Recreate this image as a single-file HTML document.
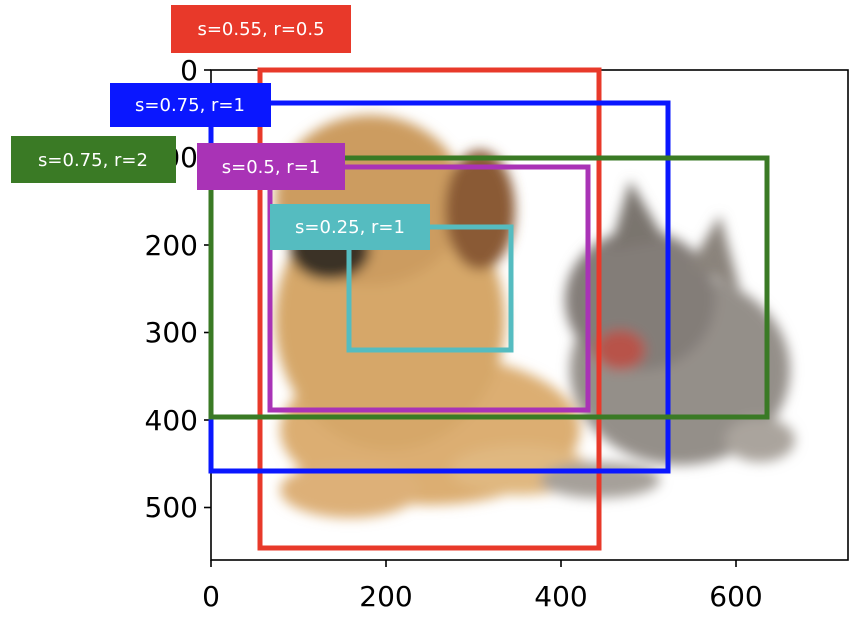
<!DOCTYPE html>
<html><head><meta charset="utf-8"><style>
html,body{margin:0;padding:0;background:#fff;}
svg{display:block;font-family:"DejaVu Sans","Liberation Sans",sans-serif;}
</style></head><body>
<svg width="862" height="630" viewBox="0 0 862 630" xmlns="http://www.w3.org/2000/svg">
<defs><filter id="b" x="-20%" y="-20%" width="140%" height="140%"><feGaussianBlur stdDeviation="6"/></filter></defs>
<g filter="url(#b)">
  <ellipse cx="430" cy="430" rx="150" ry="75" fill="#dcae72"/>
  <ellipse cx="390" cy="320" rx="115" ry="130" fill="#d6a769"/>
  <ellipse cx="370" cy="200" rx="95" ry="85" fill="#cc9c60"/>
  <ellipse cx="330" cy="250" rx="40" ry="30" fill="#3a3028"/>
  <ellipse cx="480" cy="210" rx="35" ry="60" fill="#8a5a34"/>
  <ellipse cx="350" cy="490" rx="70" ry="28" fill="#ddb078"/>
  <ellipse cx="520" cy="470" rx="70" ry="25" fill="#e0b880"/>
  <ellipse cx="680" cy="370" rx="110" ry="95" fill="#948f89"/>
  <ellipse cx="640" cy="300" rx="75" ry="70" fill="#837d78"/>
  <polygon points="630,180 665,240 610,250" fill="#7a746e"/>
  <polygon points="720,215 740,290 690,265" fill="#8a837c"/>
  <ellipse cx="620" cy="350" rx="25" ry="20" fill="#b8534a"/>
  <ellipse cx="760" cy="440" rx="35" ry="22" fill="#aaa49d"/>
  <ellipse cx="600" cy="480" rx="60" ry="18" fill="#a6a09a"/>
</g>
<rect x="211" y="70" width="637" height="490" fill="none" stroke="#000" stroke-width="1.6"/>
<g stroke="#000" stroke-width="1.6">
  <line x1="211" y1="560" x2="211" y2="567"/><line x1="386" y1="560" x2="386" y2="567"/>
  <line x1="561" y1="560" x2="561" y2="567"/><line x1="736" y1="560" x2="736" y2="567"/>
  <line x1="204" y1="70" x2="211" y2="70"/><line x1="204" y1="157.5" x2="211" y2="157.5"/>
  <line x1="204" y1="245" x2="211" y2="245"/><line x1="204" y1="332.5" x2="211" y2="332.5"/>
  <line x1="204" y1="420" x2="211" y2="420"/><line x1="204" y1="507.5" x2="211" y2="507.5"/>
</g>
<g font-size="28" fill="#000" text-anchor="middle">
  <text x="211" y="606">0</text><text x="386" y="606">200</text>
  <text x="561" y="606">400</text><text x="736" y="606">600</text>
</g>
<g font-size="28" fill="#000" text-anchor="end">
  <text x="198" y="80">0</text><text x="198" y="167">100</text>
  <text x="198" y="255">200</text><text x="198" y="342">300</text>
  <text x="198" y="430">400</text><text x="198" y="517">500</text>
</g>
<g fill="none" stroke-width="5">
  <rect x="260" y="70" width="339" height="478" stroke="#e8392a"/>
  <rect x="211" y="103" width="457" height="368" stroke="#0a17ff"/>
  <rect x="211" y="158" width="556" height="259" stroke="#3a7a25"/>
  <rect x="270" y="167" width="318" height="243" stroke="#a933b6"/>
  <rect x="349" y="227" width="162" height="123" stroke="#55bcc0"/>
</g>
<g font-size="18" fill="#fff" text-anchor="middle">
  <rect x="171" y="5" width="180" height="48" fill="#e8392a"/><text x="261" y="35">s=0.55, r=0.5</text>
  <rect x="110" y="83" width="161" height="44" fill="#0a17ff"/><text x="190" y="111">s=0.75, r=1</text>
  <rect x="11" y="136" width="165" height="47" fill="#3a7a25"/><text x="93" y="166">s=0.75, r=2</text>
  <rect x="197" y="143" width="148" height="47" fill="#a933b6"/><text x="271" y="173">s=0.5, r=1</text>
  <rect x="270" y="204" width="160" height="46" fill="#55bcc0"/><text x="350" y="233">s=0.25, r=1</text>
</g>
</svg>
</body></html>
